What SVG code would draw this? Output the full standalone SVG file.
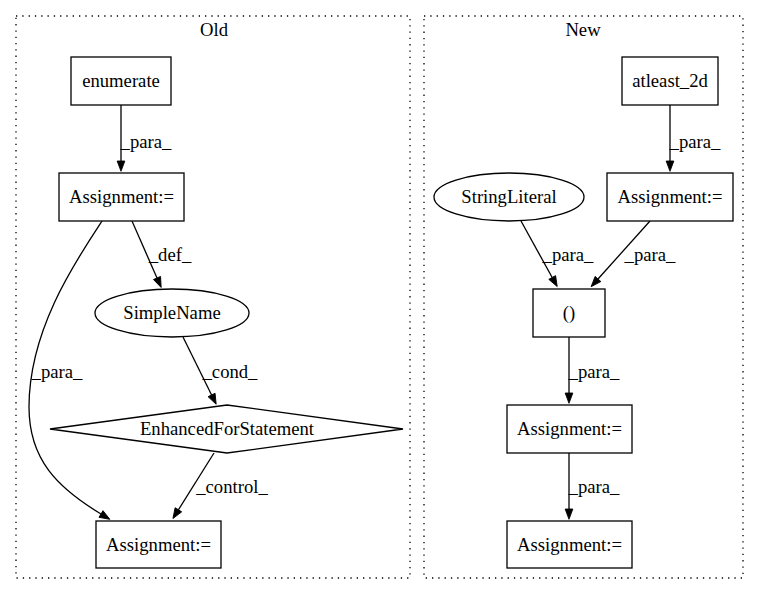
<svg xmlns="http://www.w3.org/2000/svg" width="760" height="596" viewBox="0 0 760 596">
<style>
text{font-family:"Liberation Serif","Times New Roman",serif;font-size:18.67px;fill:#000;text-anchor:middle}
.cl{fill:none;stroke:#000;stroke-width:1.3;stroke-dasharray:1.3,5}
.n{fill:#fff;stroke:#000;stroke-width:1.3}
.e{fill:none;stroke:#000;stroke-width:1.3;marker-end:url(#ah)}
</style>
<defs>
<marker id="ah" markerUnits="userSpaceOnUse" markerWidth="12" markerHeight="10" refX="0" refY="4.5" orient="auto" viewBox="0 0 14 10" overflow="visible">
<path d="M0,0 L12,4.5 L0,9 z" fill="#000" stroke="#000"/>
</marker>
</defs>
<rect width="760" height="596" fill="#fff"/>
<g id="cluster_old">
<rect class="cl" x="16" y="16" width="394" height="562"/>
<text x="214" y="36">Old</text>
</g>
<g id="cluster_new">
<rect class="cl" x="424" y="16" width="319" height="562"/>
<text x="583" y="36">New</text>
</g>
<g id="connectors">
<path class="e" d="M121,105 L121,161"/>
<text x="146" y="148">_para_</text>
<path class="e" d="M132,221 L157,278"/>
<text x="170" y="261">_def_</text>
<path class="e" d="M102,221 C75,262 29,330 29,407 C29,460 58,488 101,514"/>
<text x="57" y="378">_para_</text>
<path class="e" d="M183,337 L211.6,395"/>
<text x="230" y="378">_cond_</text>
<path class="e" d="M214,453 L178.4,509.8"/>
<text x="232" y="493">_control_</text>
<path class="e" d="M670,105 L670,161"/>
<text x="695" y="148">_para_</text>
<path class="e" d="M521,221 L552.2,277.5"/>
<text x="568" y="261">_para_</text>
<path class="e" d="M650,221 L598,279"/>
<text x="650" y="261">_para_</text>
<path class="e" d="M569,337 L569,393"/>
<text x="594" y="378">_para_</text>
<path class="e" d="M569,453 L569,509"/>
<text x="594" y="493">_para_</text>
</g>
<g id="enumerate">
<rect class="n" x="71" y="57" width="100" height="48"/>
<text x="121" y="87">enumerate</text>
</g>
<g id="old_assign1">
<rect class="n" x="59" y="173" width="125" height="48"/>
<text x="121.5" y="203">Assignment:=</text>
</g>
<g id="simplename">
<ellipse class="n" cx="172" cy="313" rx="77" ry="24"/>
<text x="172" y="319">SimpleName</text>
</g>
<g id="enhancedfor">
<polygon class="n" points="227,405 403,429 227,453 50,429"/>
<text x="227" y="435">EnhancedForStatement</text>
</g>
<g id="old_assign2">
<rect class="n" x="96" y="521" width="125" height="47"/>
<text x="158.5" y="551">Assignment:=</text>
</g>
<g id="atleast_2d">
<rect class="n" x="622" y="57" width="96" height="48"/>
<text x="670" y="87">atleast_2d</text>
</g>
<g id="new_assign1">
<rect class="n" x="607" y="173" width="126" height="48"/>
<text x="670" y="203">Assignment:=</text>
</g>
<g id="stringliteral">
<ellipse class="n" cx="509" cy="197" rx="75" ry="24"/>
<text x="509" y="203">StringLiteral</text>
</g>
<g id="paren">
<rect class="n" x="533" y="289" width="72" height="48"/>
<text x="569" y="319">()</text>
</g>
<g id="new_assign2">
<rect class="n" x="507" y="405" width="125" height="48"/>
<text x="569.5" y="435">Assignment:=</text>
</g>
<g id="new_assign3">
<rect class="n" x="507" y="521" width="125" height="47"/>
<text x="569.5" y="551">Assignment:=</text>
</g>
</svg>
